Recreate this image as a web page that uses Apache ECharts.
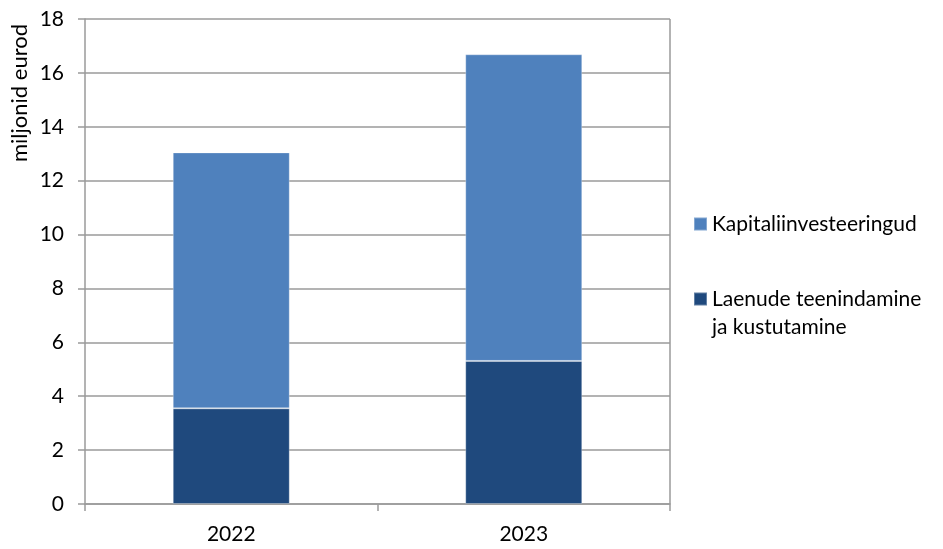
<!DOCTYPE html>
<html>
<head>
<meta charset="utf-8">
<script src="https://cdn.jsdelivr.net/npm/echarts@6/dist/echarts.min.js"></script>
<style>html,body{margin:0;padding:0;background:#fff}#c{width:943px;height:549px}</style>
</head>
<body>
<div id="c"></div>
<script>
var categories = ['2022', '2023'];
var loanValues = [3.55, 5.31];
var capitalValues = [9.50, 11.38];
var yTicks = [0, 2, 4, 6, 8, 10, 12, 14, 16, 18];
var yAxisTitle = 'miljonid eurod';
var nameCapital = 'Kapitaliinvesteeringud';
var nameLoan = 'Laenude teenindamine ja kustutamine';

var FONT = 'Lato';
var FS = 21;
var chart = echarts.init(document.getElementById('c'), null, {renderer: 'canvas'});
var grayLine = '#9a9a9a';
chart.setOption({
  animation: false,
  backgroundColor: '#fff',
  textStyle: {fontFamily: FONT},
  grid: {left: 85, right: 273, top: 19, bottom: 45},
  legend: [{
    orient: 'vertical', left: 693, top: 210, padding: 0,
    itemWidth: 13, itemHeight: 13, itemGap: 0,
    icon: 'rect',
    textStyle: {fontFamily: FONT, fontSize: FS, color: '#000', lineHeight: 28},
    data: [nameCapital]
  }, {
    orient: 'vertical', left: 693, top: 257, padding: 0,
    itemWidth: 13, itemHeight: 13, itemGap: 0,
    icon: 'rect',
    formatter: function (n) { return '\n' + n.replace('teenindamine ', 'teenindamine\n'); },
    textStyle: {fontFamily: FONT, fontSize: FS, color: '#000', lineHeight: 28},
    data: [nameLoan]
  }],
  xAxis: {
    type: 'category', data: categories,
    axisLine: {lineStyle: {color: grayLine, width: 1.5}},
    axisTick: {show: true, length: 7, lineStyle: {color: grayLine, width: 1.5}},
    axisLabel: {fontFamily: FONT, fontSize: FS, color: '#000', margin: 20}
  },
  yAxis: {
    type: 'value', min: yTicks[0], max: yTicks[yTicks.length - 1], interval: 2,
    axisLine: {show: true, lineStyle: {color: grayLine, width: 1.5}},
    axisTick: {show: true, length: 7, lineStyle: {color: grayLine, width: 1.5}},
    axisLabel: {fontFamily: FONT, fontSize: FS, color: '#000', margin: 21},
    splitLine: {show: true, lineStyle: {color: grayLine, width: 1.5}}
  },
  series: [{
    name: nameLoan, type: 'bar', stack: 'a', data: loanValues, barWidth: '40%',
    itemStyle: {color: '#1F497D', borderColor: 'rgba(255,255,255,0.3)', borderWidth: 1}
  }, {
    name: nameCapital, type: 'bar', stack: 'a', data: capitalValues, barWidth: '40%',
    itemStyle: {color: '#4F81BD', borderColor: 'rgba(255,255,255,0.3)', borderWidth: 1}
  }],
  graphic: [{
    type: 'text', x: 20, y: 93, rotation: Math.PI / 2,
    style: {text: yAxisTitle, fontFamily: FONT, fontSize: 22, fill: '#000', align: 'center', verticalAlign: 'middle'}
  }, {
    type: 'line', shape: {x1: 670, y1: 19, x2: 670, y2: 504},
    style: {stroke: grayLine, lineWidth: 1.5}
  }]
});
</script>
</body>
</html>
